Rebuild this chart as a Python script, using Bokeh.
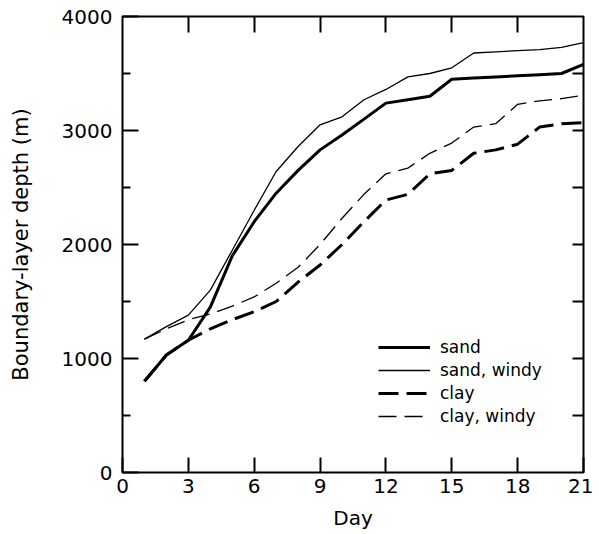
from bokeh.plotting import figure
from bokeh.models import Range1d, FixedTicker, LinearAxis, Legend, LegendItem, CustomJSTickFormatter
from bokeh.embed import file_html
from bokeh.resources import INLINE

days = list(range(1, 22))
sand = [800, 1030, 1160, 1450, 1900, 2200, 2450, 2650, 2830, 2960, 3100, 3240, 3270, 3300, 3450, 3460, 3470, 3480, 3490, 3500, 3580]
sand_windy = [1170, 1280, 1380, 1600, 1950, 2300, 2640, 2860, 3050, 3120, 3270, 3360, 3470, 3500, 3550, 3680, 3690, 3700, 3710, 3730, 3770]
clay = [800, 1030, 1160, 1260, 1340, 1410, 1500, 1670, 1820, 2000, 2200, 2390, 2440, 2620, 2650, 2800, 2830, 2880, 3030, 3060, 3070]
clay_windy = [1170, 1260, 1340, 1390, 1460, 1540, 1660, 1800, 2000, 2230, 2440, 2620, 2670, 2800, 2890, 3030, 3060, 3230, 3260, 3280, 3310]

x_ticks = [0, 3, 6, 9, 12, 15, 18, 21]
top_ticks = [3, 6, 9, 12, 15, 18]
y_ticks = [0, 1000, 2000, 3000, 4000]
y_minor = [500, 1500, 2500, 3500]
right_ticks = [500, 1000, 1500, 2000, 2500, 3000, 3500]

FONT = "DejaVu Sans"

p = figure(frame_width=461, frame_height=456,
           x_range=Range1d(0, 21), y_range=Range1d(0, 4000),
           output_backend="svg", toolbar_location=None,
           min_border_left=122, min_border_right=10, min_border_top=16, min_border_bottom=54)
p.grid.visible = False
p.outline_line_color = "black"
p.outline_line_width = 2
p.background_fill_color = "white"
p.border_fill_color = "white"

# bottom axis
xa = p.xaxis[0]
xa.ticker = FixedTicker(ticks=x_ticks)
xa.axis_line_color = None
xa.major_tick_in = 15
xa.major_tick_out = 0
xa.major_tick_line_width = 2
xa.minor_tick_line_color = None
xa.major_label_text_font = FONT
xa.major_label_text_font_size = "20px"
xa.major_label_text_color = "black"
xa.major_label_standoff = 6
xa.axis_label = "Day"
xa.axis_label_text_font = FONT
xa.axis_label_text_font_size = "20px"
xa.axis_label_text_font_style = "normal"
xa.axis_label_text_color = "black"
xa.axis_label_standoff = 10

# left axis
ya = p.yaxis[0]
ya.ticker = FixedTicker(ticks=y_ticks, minor_ticks=y_minor)
ya.axis_line_color = None
ya.major_tick_in = 16
ya.major_tick_out = 0
ya.minor_tick_in = 8
ya.minor_tick_out = 0
ya.major_tick_line_width = 2
ya.minor_tick_line_width = 2
ya.major_label_text_font = FONT
ya.major_label_text_font_size = "20px"
ya.major_label_text_color = "black"
ya.major_label_standoff = 10
ya.axis_label = "Boundary-layer depth (m)"
ya.axis_label_text_font = FONT
ya.axis_label_text_font_size = "21px"
ya.axis_label_text_font_style = "normal"
ya.axis_label_text_color = "black"
ya.axis_label_standoff = 26

empty = CustomJSTickFormatter(code="return '';")

top = LinearAxis(ticker=FixedTicker(ticks=top_ticks), formatter=empty,
                 axis_line_color=None, major_tick_in=16, major_tick_out=0,
                 major_tick_line_width=2, minor_tick_line_color=None,
                 major_label_text_font_size="1px")
p.add_layout(top, "above")

right = LinearAxis(ticker=FixedTicker(ticks=right_ticks), formatter=empty,
                   axis_line_color=None, major_tick_in=11, major_tick_out=0,
                   major_tick_line_width=2, minor_tick_line_color=None,
                   major_label_text_font_size="1px")
p.add_layout(right, "right")

r1 = p.line(days, sand, line_color="black", line_width=3)
r2 = p.line(days, sand_windy, line_color="black", line_width=1.3)
r3 = p.line(days, clay, line_color="black", line_width=3, line_dash="20 8")
r4 = p.line(days, clay_windy, line_color="black", line_width=1.3, line_dash="18 8")

legend = Legend(items=[LegendItem(label="sand", renderers=[r1]),
                       LegendItem(label="sand, windy", renderers=[r2]),
                       LegendItem(label="clay", renderers=[r3]),
                       LegendItem(label="clay, windy", renderers=[r4])],
                location=(256, 46), orientation="vertical",
                glyph_width=52, glyph_height=20, label_height=20, spacing=3,
                label_standoff=10, padding=0, margin=0,
                border_line_alpha=0, background_fill_alpha=0,
                label_text_font=FONT, label_text_font_size="17px",
                label_text_color="black")
p.add_layout(legend, "center")

open("out.html", "w").write(file_html(p, INLINE))
